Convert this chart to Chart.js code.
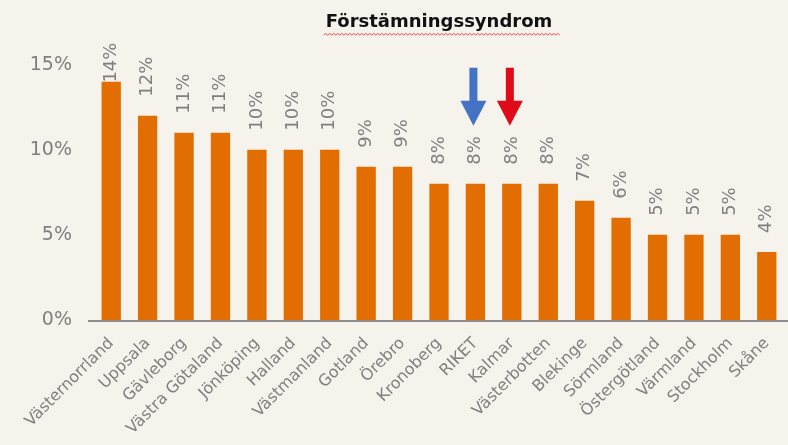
<!DOCTYPE html>
<html>
<head>
<meta charset="utf-8">
<script src="https://cdn.jsdelivr.net/npm/chart.js@4.4.1/dist/chart.umd.min.js"></script>
<style>
  html, body { margin: 0; padding: 0; background: #f6f2ec; }
  #wrap { width: 788px; height: 445px; }
</style>
</head>
<body>
<div id="wrap"><canvas id="chart" width="788" height="445"></canvas></div>
<script>
var regions = ['Västernorrland', 'Uppsala', 'Gävleborg', 'Västra Götaland', 'Jönköping', 'Halland',
    'Västmanland', 'Gotland', 'Örebro', 'Kronoberg', 'RIKET', 'Kalmar', 'Västerbotten', 'Blekinge',
    'Sörmland', 'Östergötland', 'Värmland', 'Stockholm', 'Skåne'];
var shares = [14, 12, 11, 11, 10, 10, 10, 9, 9, 8, 8, 8, 8, 7, 6, 5, 5, 5, 4];
var yTicks = [0, 5, 10, 15];
var markedRegions = ['RIKET', 'Kalmar'];
var markColors = ['#4472c4', '#e00b18'];

var grey = '#808080';

// value labels, turned upright, above each bar
var valueLabels = {
    id: 'valueLabels',
    afterDatasetsDraw: function (chart) {
        var ctx = chart.ctx;
        var meta = chart.getDatasetMeta(0);
        ctx.save();
        ctx.font = '18px "DejaVu Sans"';
        ctx.fillStyle = grey;
        ctx.textAlign = 'left';
        ctx.textBaseline = 'middle';
        meta.data.forEach(function (bar, i) {
            var txt = shares[i] + '%';
            var w = ctx.measureText(txt).width;
            var bottom = bar.y - 19;
            var minTop = chart.chartArea.top - 22;
            if (bottom - w < minTop) bottom = minTop + w;
            ctx.save();
            ctx.translate(bar.x, bottom);
            ctx.rotate(-Math.PI / 2);
            ctx.fillText(txt, 0, 0);
            ctx.restore();
        });
        ctx.restore();
    }
};

// arrows pointing at the marked bars
var arrows = {
    id: 'arrows',
    afterDatasetsDraw: function (chart) {
        var ctx = chart.ctx;
        var meta = chart.getDatasetMeta(0);
        markedRegions.forEach(function (name, k) {
            var i = regions.indexOf(name);
            var bar = meta.data[i];
            var x = bar.x - 2;
            var tip = bar.y - 58;
            var top = tip - 58;
            var headH = 25, headW = 13, shaft = 4;
            ctx.save();
            ctx.fillStyle = markColors[k];
            ctx.beginPath();
            ctx.moveTo(x - shaft, top);
            ctx.lineTo(x + shaft, top);
            ctx.lineTo(x + shaft, tip - headH);
            ctx.lineTo(x + headW, tip - headH);
            ctx.lineTo(x, tip);
            ctx.lineTo(x - headW, tip - headH);
            ctx.lineTo(x - shaft, tip - headH);
            ctx.closePath();
            ctx.fill();
            ctx.restore();
        });
    }
};

// axis line runs a little past the first bar slot, plus red squiggle under the title
var extras = {
    id: 'extras',
    afterDraw: function (chart) {
        var ctx = chart.ctx;
        var area = chart.chartArea;
        ctx.save();
        ctx.strokeStyle = '#8c8c8c';
        ctx.lineWidth = 2;
        ctx.beginPath();
        ctx.moveTo(area.left - 5, area.bottom + 1);
        ctx.lineTo(chart.width, area.bottom + 1);
        ctx.stroke();

        var t = chart.titleBlock;
        ctx.font = 'bold 18px "DejaVu Sans"';
        var w = ctx.measureText(chart.options.plugins.title.text).width;
        var cx = (t.left + t.right) / 2;
        var x0 = cx - w / 2 - 2, x1 = cx + w / 2 + 6;
        var y = 35;
        ctx.strokeStyle = '#e8494a';
        ctx.lineWidth = 1;
        ctx.beginPath();
        ctx.moveTo(x0, y);
        for (var x = x0, up = true; x < x1; x += 2, up = !up) {
            ctx.lineTo(x + 2, up ? y - 1.5 : y);
        }
        ctx.stroke();
        ctx.restore();
    }
};

var ctx = document.getElementById('chart').getContext('2d');
new Chart(ctx, {
    type: 'bar',
    data: {
        labels: regions,
        datasets: [{
            data: shares,
            backgroundColor: '#e26d00',
            barPercentage: 0.53,
            categoryPercentage: 1.0
        }]
    },
    options: {
        responsive: false,
        animation: false,
        layout: { padding: { top: 0, right: 3, left: 0, bottom: 0 } },
        plugins: {
            legend: { display: false },
            tooltip: { enabled: false },
            title: {
                display: true,
                text: 'Förstämningssyndrom',
                fullSize: false,
                color: '#111111',
                font: { family: 'DejaVu Sans', size: 18, weight: 'bold' },
                padding: { top: 12, bottom: 31 }
            }
        },
        scales: {
            x: {
                grid: { display: false, drawTicks: false },
                border: { display: false },
                ticks: {
                    color: grey,
                    font: { family: 'DejaVu Sans', size: 16 },
                    minRotation: 45,
                    maxRotation: 45,
                    autoSkip: false,
                    padding: 14
                },
                afterFit: function (scale) {
                    scale.height = 125;
                    scale.paddingLeft = 0;
                    scale.paddingRight = 0;
                }
            },
            y: {
                min: 0,
                max: 15,
                grid: { display: false, drawTicks: false },
                border: { display: false },
                afterBuildTicks: function (scale) {
                    scale.ticks = yTicks.map(function (v) { return { value: v }; });
                },
                ticks: {
                    color: grey,
                    font: { family: 'DejaVu Sans', size: 19 },
                    padding: 21,
                    callback: function (v) { return v + '%'; }
                },
                afterFit: function (scale) { scale.width = 93; }
            }
        }
    },
    plugins: [valueLabels, arrows, extras]
});
</script>
</body>
</html>
